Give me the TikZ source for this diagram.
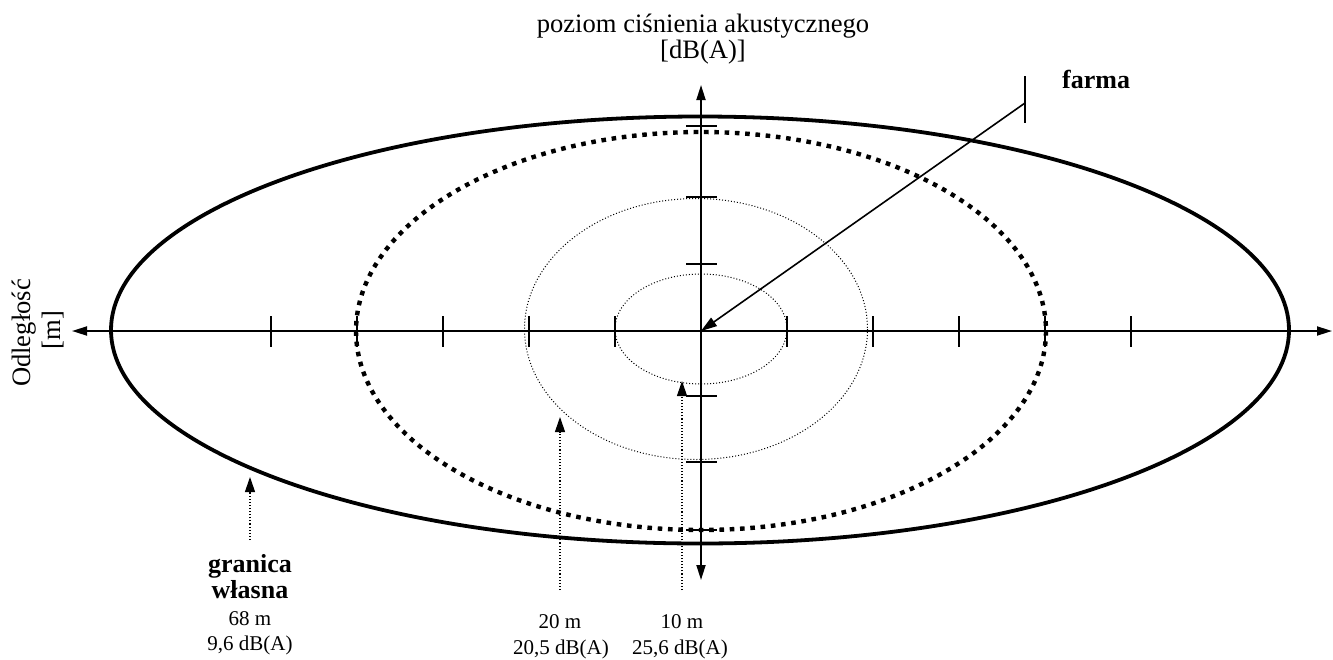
\documentclass[tikz,border=0pt]{standalone}
\usepackage{fontspec}
\setmainfont{Liberation Serif}
\usetikzlibrary{arrows.meta}
\begin{document}
\begin{tikzpicture}[x=1pt,y=-1pt,
  axis/.style={line width=1.8pt},
  axboth/.style={axis,{Triangle[length=15pt,width=9pt]}-{Triangle[length=15pt,width=9pt]}},
  tickmark/.style={line width=1.8pt},
  outer/.style={line width=3.8pt},
  dashell/.style={line width=4.4pt, dash pattern=on 4.6pt off 5.7pt},
  dotell/.style={line width=1pt, dash pattern=on 1pt off 2pt},
  pointer/.style={line width=1.1pt, dash pattern=on 1.1pt off 2pt, -{Triangle[length=15pt,width=10pt]}},
  farmaline/.style={line width=1.6pt},
  lbl/.style={font=\fontsize{21}{25}\selectfont, anchor=base, inner sep=0pt},
  blbl/.style={font=\fontsize{26}{30}\selectfont\bfseries, anchor=base, inner sep=0pt},
  ttl/.style={font=\fontsize{26.6}{30}\selectfont, anchor=base, inner sep=0pt},
]
\useasboundingbox (0,0) rectangle (1333,659);

% centre
\coordinate (O) at (701,331);

% ellipses
\draw[outer] (700,330) ellipse [x radius=589, y radius=213.5];
\draw[dashell] (701,331) ellipse [x radius=345, y radius=199];
\draw[dotell] (696,329) ellipse [x radius=171.5, y radius=130.5];
\draw[dotell] (701,329) ellipse [x radius=86, y radius=55];

% axes
\coordinate (hl) at (72,331);
\coordinate (hr) at (1332,331);
\coordinate (vt) at (701,85);
\coordinate (vb) at (701,580);
\draw[axboth] (hl) -- (hr);
\draw[axboth] (vt) -- (vb);

% ticks on horizontal axis
\foreach \k in {-5,-4,-3,-2,-1,1,2,3,4,5}
  \draw[tickmark] (701+\k*86,316) -- (701+\k*86,347);
% ticks on vertical axis
\foreach \yy in {126,197,264,396,462,530}
  \draw[tickmark] (686,\yy) -- (717,\yy);

% farma
\coordinate (ft) at (1025,76);
\coordinate (fb) at (1025,123);
\coordinate (fj) at (1025,103);
\draw[farmaline] (ft) -- (fb);
\draw[farmaline,-{Triangle[length=16pt,width=10pt]}] (fj) -- (O);
\node[blbl, anchor=base west] (farma) at (1062,88) {farma};

% title
\node[ttl] (t1) at (703,32) {poziom ciśnienia akustycznego};
\node[ttl] (t2) at (703,58) {[dB(A)]};

% y label rotated
\node[ttl, rotate=90] (o1) at (30,333) {Odległość};
\node[ttl, rotate=90] (o2) at (60,330) {[m]};

% pointers
\coordinate (p1s) at (250,540);
\coordinate (p1e) at (250,477);
\coordinate (p2s) at (560,590);
\coordinate (p2e) at (560,417);
\coordinate (p3s) at (682,590);
\coordinate (p3e) at (682,381);
\draw[pointer] (p1s) -- (p1e);
\draw[pointer] (p2s) -- (p2e);
\draw[pointer] (p3s) -- (p3e);

% bottom labels
\node[blbl] (g1) at (250,572) {granica};
\node[blbl] (g2) at (250,598) {własna};
\node[lbl] (g3) at (250,625) {68 m};
\node[lbl] (g4) at (250,650) {9,6 dB(A)};
\node[lbl] (a1) at (560,628) {20 m};
\node[lbl] (a2) at (561,654) {20,5 dB(A)};
\node[lbl] (b1) at (682,628) {10 m};
\node[lbl] (b2) at (680,654) {25,6 dB(A)};
\end{tikzpicture}
\end{document}
